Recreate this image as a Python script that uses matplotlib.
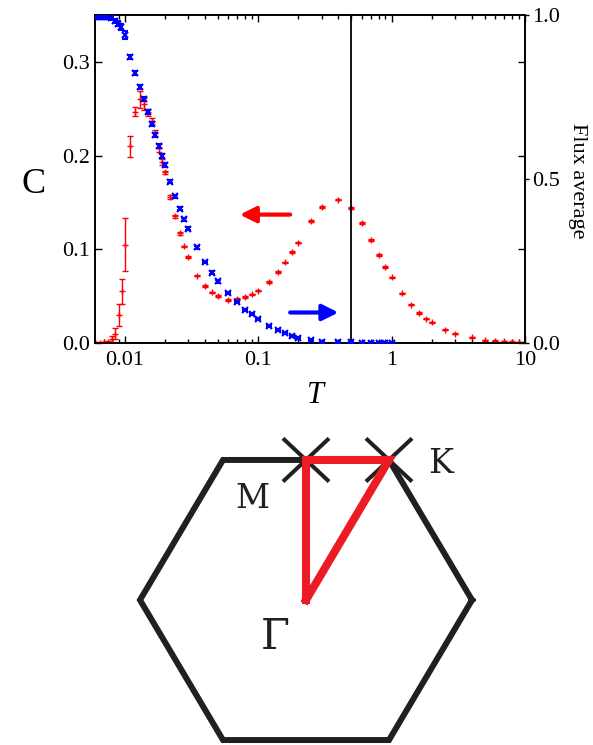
import numpy as np
import matplotlib.pyplot as plt

plt.rcParams['font.family'] = 'Liberation Serif'

# specific heat C(T), with statistical errors
t_c = [0.006, 0.0065, 0.007, 0.0075, 0.008, 0.0085, 0.009, 0.0095, 0.010,
       0.011, 0.012, 0.013, 0.014, 0.015, 0.016, 0.017, 0.018, 0.019, 0.020,
       0.022, 0.024, 0.026, 0.028, 0.030, 0.035, 0.040, 0.045, 0.050,
       0.060, 0.070, 0.080, 0.090, 0.10, 0.12, 0.14, 0.16, 0.18, 0.20,
       0.25, 0.30, 0.40, 0.50, 0.60, 0.70, 0.80, 0.90, 1.0,
       1.2, 1.4, 1.6, 1.8, 2.0, 2.5, 3.0, 4.0, 5.0, 6.0, 7.0, 8.0, 9.0, 10.0]
c_val = [0.0003, 0.0005, 0.0008, 0.0015, 0.004, 0.010, 0.030, 0.055, 0.105,
         0.210, 0.247, 0.260, 0.255, 0.246, 0.237, 0.224, 0.208, 0.193, 0.182,
         0.156, 0.135, 0.117, 0.103, 0.092, 0.072, 0.061, 0.054, 0.050,
         0.046, 0.047, 0.049, 0.052, 0.056, 0.065, 0.076, 0.086, 0.097, 0.107,
         0.130, 0.145, 0.153, 0.144, 0.128, 0.110, 0.094, 0.081, 0.070,
         0.053, 0.041, 0.032, 0.026, 0.022, 0.014, 0.010, 0.006, 0.003,
         0.0025, 0.002, 0.0012, 0.001, 0.0007]
c_err = [0.0003, 0.0005, 0.0008, 0.001, 0.003, 0.006, 0.012, 0.013, 0.028,
         0.011, 0.005, 0.009, 0.006, 0.004, 0.003, 0.003, 0.004, 0.003, 0.002,
         0.002, 0.002, 0.0015, 0.001, 0.001, 0.001, 0.001, 0.0008, 0.0008,
         0.0008, 0.0008, 0.0008, 0.0008, 0.0008, 0.0008, 0.0008, 0.0008,
         0.0008, 0.0008, 0.0008, 0.0008, 0.0008, 0.0008, 0.0008, 0.0008,
         0.0008, 0.0008, 0.0008, 0.0008, 0.0008, 0.0008, 0.0008, 0.0008,
         0.0006, 0.0006, 0.0006, 0.0006, 0.0006, 0.0006, 0.0006, 0.0006, 0.0006]

# flux average
t_f = [0.006, 0.0063, 0.0066, 0.007, 0.0074, 0.0079, 0.0084, 0.0089, 0.0094,
       0.010, 0.011, 0.012, 0.013, 0.014, 0.015, 0.016, 0.017, 0.018, 0.019,
       0.020, 0.022, 0.024, 0.026, 0.028, 0.030, 0.035, 0.040, 0.045, 0.050,
       0.060, 0.070, 0.080, 0.090, 0.10, 0.12, 0.14, 0.16, 0.18, 0.20,
       0.25, 0.30, 0.40, 0.50, 0.60, 0.70, 0.80, 0.90, 1.0]
f_val = [0.995, 0.995, 0.995, 0.994, 0.993, 0.990, 0.982, 0.974, 0.963,
         0.939, 0.873, 0.823, 0.781, 0.744, 0.705, 0.668, 0.634, 0.602, 0.571,
         0.543, 0.492, 0.447, 0.410, 0.377, 0.349, 0.292, 0.247, 0.214, 0.188,
         0.151, 0.126, 0.100, 0.087, 0.073, 0.053, 0.040, 0.031, 0.022, 0.016,
         0.008, 0.004, 0.003, 0.002, 0.001, 0.001, 0.001, 0.001, 0.001]
f_err = [0.003, 0.003, 0.003, 0.003, 0.004, 0.005, 0.006, 0.008, 0.010,
         0.012, 0.006, 0.006, 0.006, 0.006, 0.006, 0.006, 0.006, 0.006, 0.006,
         0.006, 0.005, 0.005, 0.005, 0.004, 0.004, 0.004, 0.004, 0.004, 0.004,
         0.003, 0.003, 0.003, 0.003, 0.003, 0.003, 0.003, 0.003, 0.003, 0.003,
         0.003, 0.003, 0.002, 0.002, 0.002, 0.002, 0.002, 0.002, 0.002]

t_cross = 0.5

fig = plt.figure(figsize=(5.93, 7.45), dpi=100)
W, H = 593, 745
ax = fig.add_axes([95 / W, 1 - 343 / H, 430 / W, 328 / H])
ax2 = ax.twinx()

ax.errorbar(t_c, c_val, yerr=c_err, fmt='+', color='red', ms=5, mew=1.0,
            elinewidth=1.0, capsize=2.5, capthick=1.0, zorder=3)
ax2.errorbar(t_f, f_val, yerr=f_err, fmt='x', color='blue', ms=4, mew=1.5,
             elinewidth=1.0, capsize=2.0, capthick=1.0, zorder=3)

ax.axvline(t_cross, color='black', lw=1.3, zorder=4)

ax.annotate('', xy=(0.073, 0.137), xytext=(0.174, 0.137),
            arrowprops=dict(arrowstyle='-|>', color='red', lw=3,
                            mutation_scale=24, shrinkA=0, shrinkB=0))
ax2.annotate('', xy=(0.40, 0.093), xytext=(0.174, 0.093),
             arrowprops=dict(arrowstyle='-|>', color='blue', lw=3,
                             mutation_scale=24, shrinkA=0, shrinkB=0))

ax.set_xscale('log')
ax.set_xlim(0.006, 10)
ax.set_ylim(0, 0.35)
ax2.set_ylim(0, 1.0)

ax.set_xticks([0.01, 0.1, 1, 10])
ax.set_xticklabels(['0.01', '0.1', '1', '10'])
ax.set_yticks([0.0, 0.1, 0.2, 0.3])
ax.set_yticklabels(['0.0', '0.1', '0.2', '0.3'])
ax2.set_yticks([0.0, 0.5, 1.0])
ax2.set_yticklabels(['0.0', '0.5', '1.0'])

ax.tick_params(axis='both', which='both', direction='in', top=True,
               right=True, labelsize=16, width=1.0)
ax.tick_params(which='major', length=5)
ax.tick_params(which='minor', length=3)
ax.tick_params(axis='x', pad=6)
ax2.tick_params(axis='y', direction='out', length=3, width=1.0,
                labelsize=16, pad=2)

for a in (ax, ax2):
    for s in a.spines.values():
        s.set_linewidth(1.2)

ax.set_ylabel('C', fontsize=26, rotation=0, va='center', ha='center')
ax.yaxis.set_label_coords(-0.142, 0.482)
ax.set_xlabel('T', fontsize=22, style='italic')
ax.xaxis.set_label_coords(0.512, -0.115)
fig.text(577 / W, 1 - 181 / H, 'Flux average', rotation=270, fontsize=16,
         ha='center', va='center')

# Brillouin zone of the hexagonal lattice with the Γ-M-K path
bz = fig.add_axes([0, 0, 1, 345 / H])
bz.axis('off')
bz.set_xlim(-306 / 166, (W - 306) / 166)
bz.set_ylim(-145 / 161.7, 200 / 161.7)

ang = np.deg2rad(np.arange(0, 361, 60))
black = '#231f20'
red = '#ed1c24'
bz.plot(np.cos(ang), np.sin(ang), color=black, lw=4.3,
        solid_joinstyle='miter', clip_on=False)

h = np.sin(np.pi / 3)
gamma = (0.0, 0.0)
m_pt = (0.0, h)
k_pt = (0.5, h)

for px, py in (m_pt, k_pt):
    bz.plot([px - 0.13, px + 0.13], [py + 0.125, py - 0.125], color=black, lw=2.9)
    bz.plot([px - 0.13, px + 0.13], [py - 0.125, py + 0.125], color=black, lw=2.9)

bz.plot([gamma[0], m_pt[0], k_pt[0], gamma[0]],
        [gamma[1], m_pt[1], k_pt[1], gamma[1]],
        color=red, lw=5.8, solid_joinstyle='miter')

bz.text(m_pt[0] - 0.325, m_pt[1] - 0.24, 'M', fontsize=24, family='DejaVu Serif',
        color=black, ha='center', va='center')
bz.text(k_pt[0] + 0.313, k_pt[1] - 0.025, 'K', fontsize=24, family='DejaVu Serif',
        color=black, ha='center', va='center')
bz.text(gamma[0] - 0.187, gamma[1] - 0.229, 'Γ', fontsize=30, family='DejaVu Serif',
        color=black, ha='center', va='center')

fig.savefig('out.png', dpi=100)
